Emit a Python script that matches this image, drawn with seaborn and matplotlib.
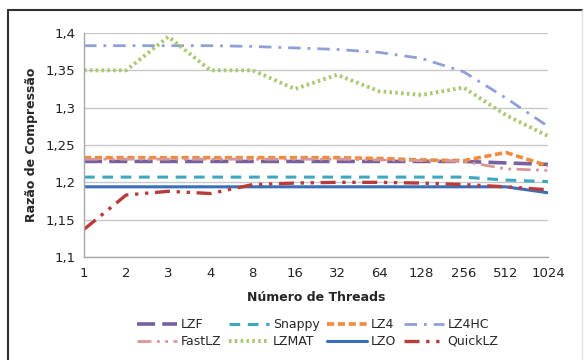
import numpy as np
import pandas as pd
import matplotlib
matplotlib.use("Agg")
import matplotlib.pyplot as plt
from matplotlib.lines import Line2D
import seaborn as sns

threads = ["1", "2", "3", "4", "8", "16", "32", "64", "128", "256", "512", "1024"]

lzf     = [1.228, 1.228, 1.228, 1.228, 1.228, 1.228, 1.228, 1.228, 1.228, 1.228, 1.226, 1.224]
snappy  = [1.207, 1.207, 1.207, 1.207, 1.207, 1.207, 1.207, 1.207, 1.207, 1.207, 1.203, 1.201]
lz4     = [1.233, 1.233, 1.233, 1.233, 1.233, 1.233, 1.233, 1.232, 1.230, 1.229, 1.240, 1.222]
lz4hc   = [1.383, 1.383, 1.383, 1.383, 1.382, 1.380, 1.378, 1.374, 1.366, 1.348, 1.313, 1.275]
fastlz  = [1.231, 1.231, 1.231, 1.231, 1.231, 1.231, 1.231, 1.230, 1.229, 1.228, 1.218, 1.216]
lzmat   = [1.350, 1.350, 1.395, 1.350, 1.350, 1.325, 1.344, 1.322, 1.317, 1.327, 1.290, 1.262]
lzo     = [1.194, 1.194, 1.194, 1.194, 1.194, 1.194, 1.194, 1.194, 1.194, 1.194, 1.194, 1.186]
quicklz = [1.137, 1.183, 1.188, 1.185, 1.197, 1.199, 1.200, 1.200, 1.199, 1.197, 1.194, 1.190]

series_names = ["LZF", "Snappy", "LZ4", "LZ4HC", "FastLZ", "LZMAT", "LZO", "QuickLZ"]
series_vals = [lzf, snappy, lz4, lz4hc, fastlz, lzmat, lzo, quicklz]

styles = {
    "LZF":     dict(color="#7560a0", lw=2.6, dashes=(5, 2)),
    "Snappy":  dict(color="#3fa8c0", lw=2.2, dashes=(3.5, 2.5)),
    "LZ4":     dict(color="#f08a3c", lw=2.6, dashes=(2, 1)),
    "LZ4HC":   dict(color="#8fa0d8", lw=2.0, dashes=(4.5, 2.5, 1, 2.5)),
    "FastLZ":  dict(color="#d99694", lw=2.0, dashes=(5, 2, 1, 2, 1, 2)),
    "LZMAT":   dict(color="#a8c870", lw=2.8, dashes=(0.65, 0.85)),
    "LZO":     dict(color="#3a6fb8", lw=2.2, dashes=None),
    "QuickLZ": dict(color="#b83c3a", lw=2.4, dashes=(4.5, 2, 1, 2, 1, 2)),
}

sns.set_theme(style="white")
plt.rcParams['font.family'] = ['DejaVu Sans']

fig = plt.figure(figsize=(5.86, 3.6), dpi=100)
ax = fig.add_axes([84/586, 1-257/360, (548-84)/586, (257-33)/360])

x = np.arange(len(threads))
handles = {}
for name, vals in zip(series_names, series_vals):
    st = styles[name]
    df = pd.DataFrame({"x": x, "y": vals})
    sns.lineplot(data=df, x="x", y="y", ax=ax, color=st["color"], lw=st["lw"])
    ln = ax.lines[-1]
    h = Line2D([], [], color=st["color"], lw=st["lw"])
    if st["dashes"] is not None:
        ln.set_dashes(st["dashes"])
        h.set_dashes(st["dashes"])
    ln.set_dash_capstyle("butt")
    h.set_dash_capstyle("butt")
    handles[name] = h

ax.set_xlim(0, len(threads) - 1)
ax.set_ylim(1.1, 1.4)
ax.set_xticks(x)
ax.set_xticklabels(threads)
yt = [1.1, 1.15, 1.2, 1.25, 1.3, 1.35, 1.4]
ax.set_yticks(yt)
ax.set_yticklabels([("%g" % v).replace(".", ",") for v in yt])
ax.grid(axis="y", color="#c8c8c8", lw=1)
ax.grid(axis="x", visible=False)
for s in ["top", "right"]:
    ax.spines[s].set_visible(False)
for s in ["left", "bottom"]:
    ax.spines[s].set_color("#a8a8a8")
    ax.spines[s].set_linewidth(1)
ax.tick_params(axis="both", which="both", length=4, width=1, color="#a8a8a8",
               labelsize=9.5, labelcolor="#222222", direction="out")
ax.tick_params(axis="x", pad=3)
ax.tick_params(axis="y", pad=2)

ax.set_xlabel("Número de Threads", fontsize=9, fontweight="bold", labelpad=8)
ax.set_ylabel("Razão de Compressão", fontsize=9, fontweight="bold", labelpad=6)

# legend filled row by row (matplotlib fills columns first)
order = ["LZF", "FastLZ", "Snappy", "LZMAT", "LZ4", "LZO", "LZ4HC", "QuickLZ"]
leg = fig.legend([handles[n] for n in order], order, loc="center",
                 bbox_to_anchor=(318/586, 1-333/360),
                 ncol=4, frameon=False, fontsize=9, handlelength=3.2,
                 handletextpad=0.3, columnspacing=0.6, labelspacing=0.3)

# outer frame
fig.add_artist(Line2D([8/586, 582/586], [1-10/360, 1-10/360], transform=fig.transFigure,
                      color="#303030", lw=1.5))
fig.add_artist(Line2D([8/586, 8/586], [1-10/360, 0], transform=fig.transFigure,
                      color="#303030", lw=1.5))
fig.add_artist(Line2D([582/586, 582/586], [1-10/360, 0], transform=fig.transFigure,
                      color="#e0e0e0", lw=1))

fig.savefig("out.png", dpi=100)
